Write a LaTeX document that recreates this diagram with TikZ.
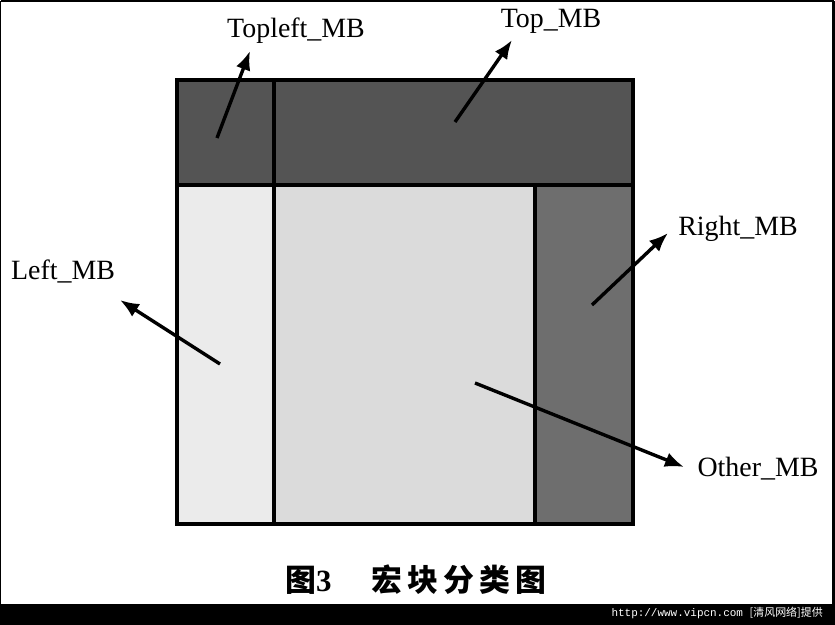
\documentclass[tikz,border=0pt]{standalone}
\usepackage{fontspec}
\setmainfont{Liberation Serif}
\newfontfamily\cjk{Noto Sans CJK SC}
\newfontfamily\monof{Liberation Mono}
\usetikzlibrary{arrows.meta}
\definecolor{topc}{gray}{0.33}
\definecolor{rightc}{gray}{0.43}
\definecolor{leftc}{gray}{0.92}
\definecolor{midc}{gray}{0.86}
\begin{document}
\begin{tikzpicture}[x=1bp,y=-1bp,
  lbl/.style={font=\fontsize{28}{30}\selectfont, inner sep=0pt},
  arr/.style={line width=3.4bp, -{Latex[length=19bp,width=15bp]}},
  edge/.style={draw=black, line width=3.6bp}]
\useasboundingbox (0,0) rectangle (835,625);
\fill[white] (0,0) rectangle (835,625);
\fill[black] (0,604) rectangle (835,625);
\draw[line width=2bp] (1,1) -- (834,1);
\draw[line width=1.5bp] (0.75,1) -- (0.75,604);
\draw[line width=3bp] (833,1) -- (833,604);
% regions
\fill[topc] (177,80) rectangle (633,185);
\fill[leftc] (177,185) rectangle (274,524);
\fill[midc] (274,185) rectangle (535,524);
\fill[rightc] (535,185) rectangle (633,524);
% grid lines
\draw[edge] (177,80) rectangle (633,524);
\draw[edge] (177,185) -- (633,185);
\draw[edge] (274,80) -- (274,524);
\draw[edge] (535,185) -- (535,524);
% labels
\node[lbl] (tl) at (296,31) {Topleft\_MB};
\node[lbl] (tp) at (551,21) {Top\_MB};
\node[lbl] (rt) at (738,229) {Right\_MB};
\node[lbl] (lf) at (63,271) {Left\_MB};
\node[lbl] (ot) at (758,469) {Other\_MB};
% arrow ends
\coordinate (tla) at (217,138); \coordinate (tlb) at (250,51);
\coordinate (tpa) at (455,122); \coordinate (tpb) at (512,40);
\coordinate (rta) at (592,305); \coordinate (rtb) at (668,233);
\coordinate (lfa) at (220,364); \coordinate (lfb) at (120,300);
\coordinate (ota) at (475,383); \coordinate (otb) at (684,467);
\draw[arr] (tla) -- (tlb);
\draw[arr] (tpa) -- (tpb);
\draw[arr] (rta) -- (rtb);
\draw[arr] (lfa) -- (lfb);
\draw[arr] (ota) -- (otb);
% caption
\node[inner sep=0pt] (cap) at (416,580) {\cjk\bfseries\fontsize{31}{33}\selectfont 图{\rmfamily 3}\hspace{40bp}宏\,块\,分\,类\,图};
% footer
\node[inner sep=0pt, anchor=east, text=white] (foot) at (823,613) {\monof\fontsize{11}{12}\selectfont http://www.vipcn.com {\cjk [清风网络]提供}};
\end{tikzpicture}
\end{document}
